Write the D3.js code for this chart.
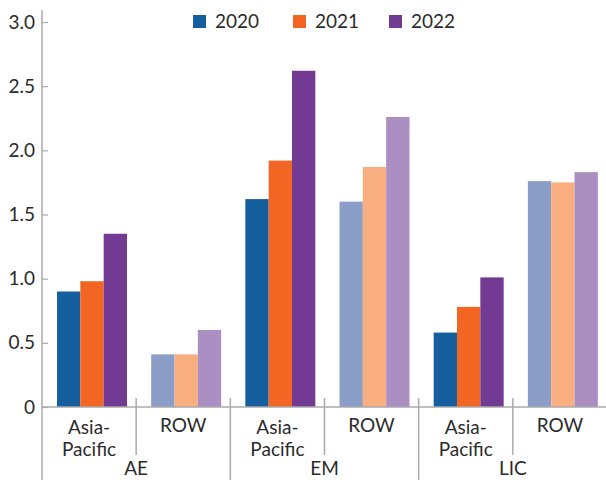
<!DOCTYPE html>
<html>
<head>
<meta charset="utf-8">
<script src="https://cdn.jsdelivr.net/npm/d3@7"></script>
<style>
  body { margin: 0; background: #fff; }
  svg { display: block; font-family: Lato, "Open Sans", sans-serif; }
  text { fill: #2b2b2b; }
</style>
</head>
<body>
<svg id="chart" width="606" height="480"></svg>
<script>
// data
const groups = ["AE", "EM", "LIC"]
const regions = ["Asia-Pacific", "ROW"]
const years = ["2020", "2021", "2022"]
const v2020 = [0.90, 0.41, 1.62, 1.60, 0.58, 1.76]
const v2021 = [0.98, 0.41, 1.92, 1.87, 0.78, 1.75]
const v2022 = [1.35, 0.60, 2.62, 2.26, 1.01, 1.83]
const yTicks = [0, 0.5, 1.0, 1.5, 2.0, 2.5, 3.0]

const darkCols = ["#165f9e", "#f26522", "#733a94"]
const lightCols = ["#8a9ec7", "#f9ae80", "#ab8fc2"]

const svg = d3.select('#chart')
const plotLeft = 42, plotRight = 607, base = 407, plotTop = 22
const fs = 19

// one cell per group/region pair
const cells = []
groups.forEach(g => regions.forEach(r => cells.push({group: g, region: r})))
const series = [v2020, v2021, v2022]

const x = d3.scaleBand().domain(d3.range(cells.length)).range([plotLeft, plotRight])
const xYear = d3.scaleBand().domain(years).range([15, 85])
const y = d3.scaleLinear().domain([0, 3]).range([base, plotTop])

// bars
const cellG = svg.selectAll('g.cell').data(cells).enter().append('g')
  .attr('class', 'cell')
  .attr('transform', (d, i) => `translate(${x(i)},0)`)

cellG.selectAll('rect').data((d, i) => years.map((yr, k) => ({yr, k, v: series[k][i], light: d.region === 'ROW'})))
  .enter().append('rect')
  .attr('x', d => xYear(d.yr))
  .attr('width', xYear.bandwidth())
  .attr('y', d => y(d.v))
  .attr('height', d => base - y(d.v))
  .attr('fill', d => d.light ? lightCols[d.k] : darkCols[d.k])

// y axis
const yAxis = d3.axisRight(y).tickValues(yTicks).tickSize(6)
  .tickFormat(d => d === 0 ? '0' : d3.format('.1f')(d))
const ya = svg.append('g').attr('transform', `translate(${plotLeft},0)`).call(yAxis)
ya.select('.domain').remove()
ya.selectAll('line').attr('stroke', '#aaa').attr('stroke-width', 1.2)
ya.selectAll('text').attr('x', -7).attr('text-anchor', 'end')
  .attr('font-size', fs).attr('font-family', 'Lato, sans-serif').attr('fill', '#2b2b2b')
svg.append('line').attr('x1', plotLeft).attr('x2', plotLeft).attr('y1', 10).attr('y2', 480)
  .attr('stroke', '#aaa').attr('stroke-width', 1.5)

// baseline
svg.append('line').attr('x1', plotLeft).attr('x2', plotRight).attr('y1', base).attr('y2', base)
  .attr('stroke', '#aaa').attr('stroke-width', 1.5)

// separators: short between regions, long between groups
d3.range(1, cells.length).forEach(i => {
  const long = i % 2 === 0
  svg.append('line').attr('x1', x(i)).attr('x2', x(i))
    .attr('y1', base - 9).attr('y2', long ? 480 : 455)
    .attr('stroke', '#aaa').attr('stroke-width', 1.5)
})

// region labels
cellG.each(function(d) {
  const t = d3.select(this).append('text')
    .attr('x', x.bandwidth() / 2).attr('text-anchor', 'middle').attr('font-size', fs)
  if (d.region === 'ROW') {
    t.append('tspan').attr('x', x.bandwidth() / 2).attr('y', 432).text('ROW')
  } else {
    t.append('tspan').attr('x', x.bandwidth() / 2).attr('y', 434).text('Asia-')
    t.append('tspan').attr('x', x.bandwidth() / 2).attr('y', 456).text('Pacific')
  }
})

// group labels (cut by the frame in the original; kept just inside here)
svg.selectAll('text.grp').data(groups).enter().append('text')
  .attr('class', 'grp')
  .attr('x', (g, i) => x(i * 2) + x.bandwidth())
  .attr('y', 475).attr('text-anchor', 'middle').attr('font-size', fs)
  .text(g => g)

// legend
const legX = [193, 293, 389]
const leg = svg.selectAll('g.leg').data(years).enter().append('g')
  .attr('class', 'leg')
  .attr('transform', (d, i) => `translate(${legX[i]},15)`)
leg.append('rect').attr('width', 13).attr('height', 13).attr('fill', (d, i) => darkCols[i])
leg.append('text').attr('x', 22).attr('y', 13).attr('font-size', fs).text(d => d)
</script>
</body>
</html>
